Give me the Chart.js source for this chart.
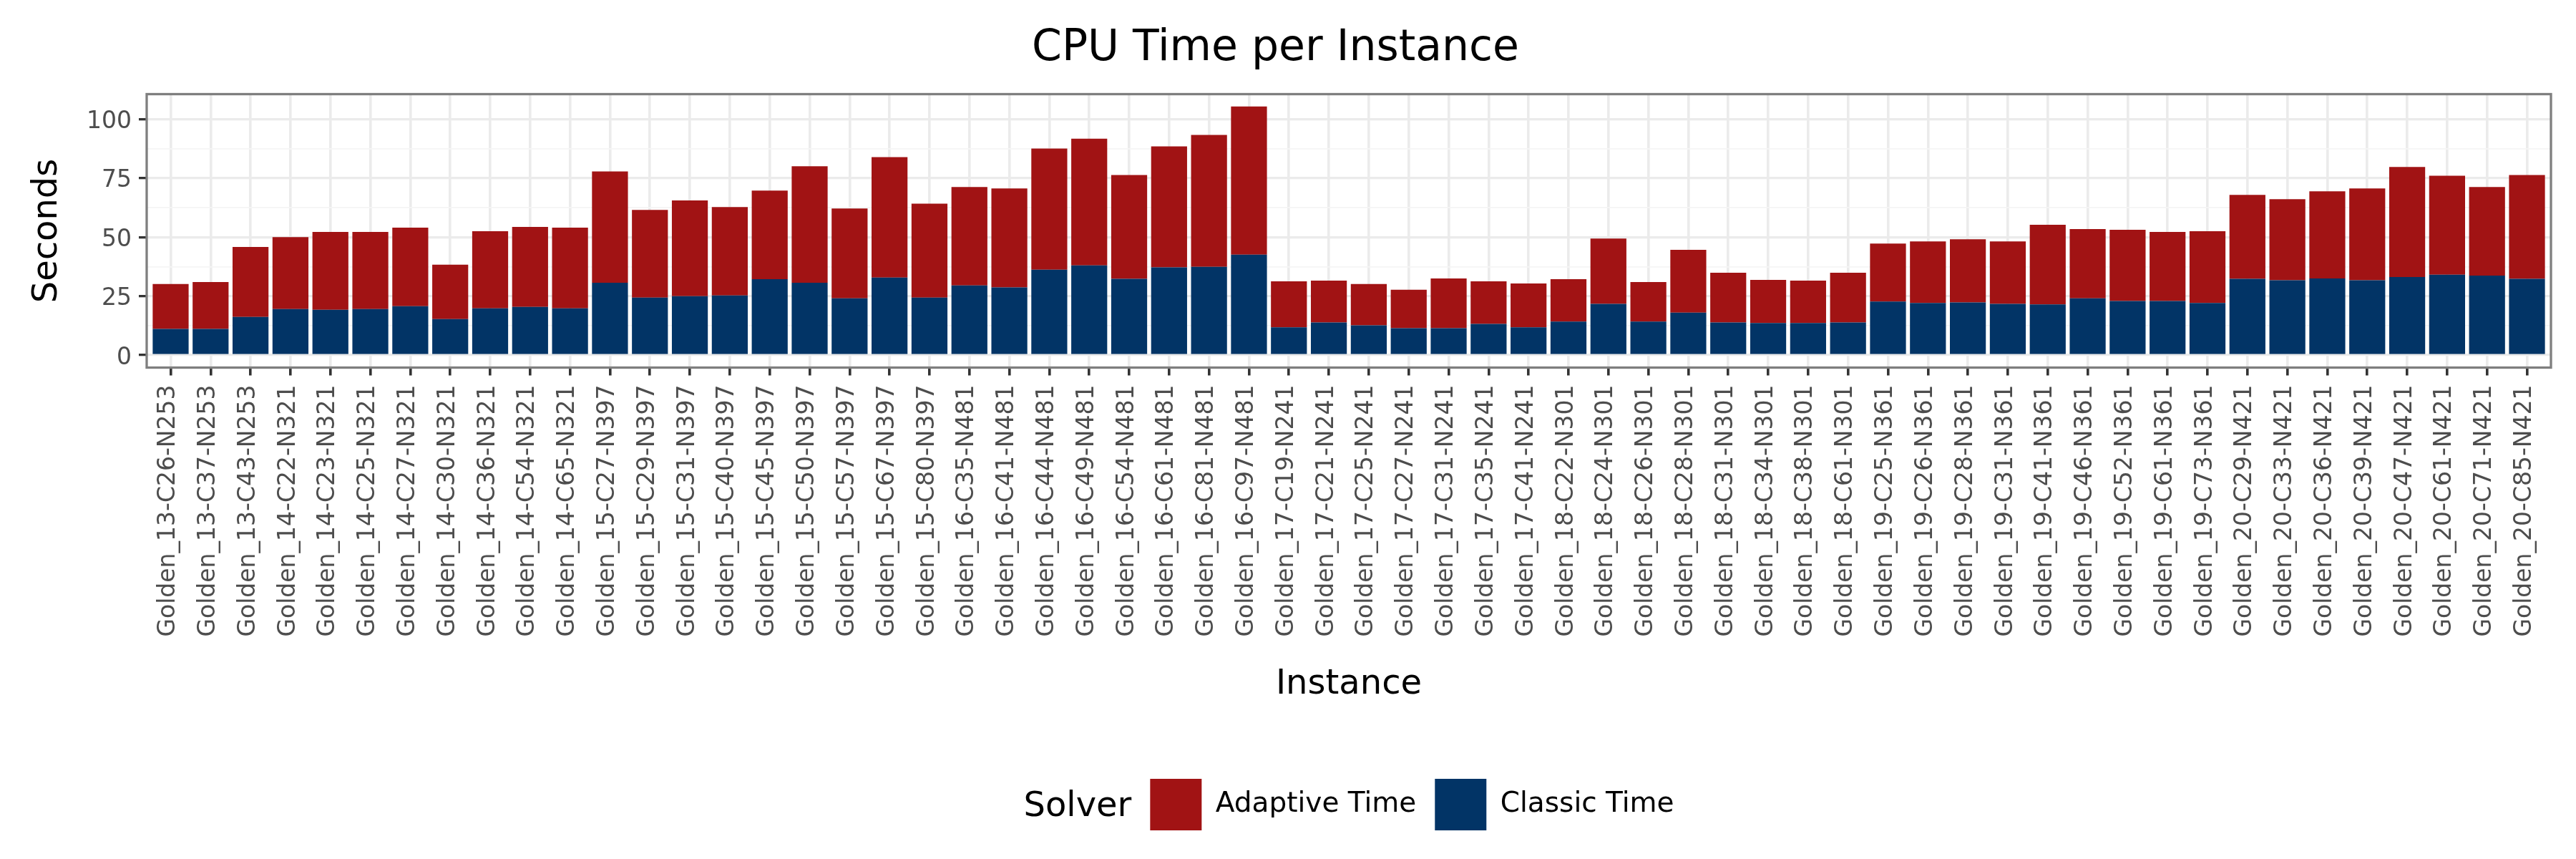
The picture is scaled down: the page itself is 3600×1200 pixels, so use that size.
<!DOCTYPE html>
<html lang="en">
<head>
<meta charset="UTF-8">
<title>CPU Time per Instance</title>
<script src="https://cdn.jsdelivr.net/npm/chart.js"></script>
<style>
    body { margin: 0; background: #ffffff; }
    canvas { display: block; }
</style>
</head>
<body>
<canvas id="myChart" width="3600" height="1200"></canvas>

<script>
    // Instances (x axis)
    var instances = [
        'Golden_13-C26-N253', 'Golden_13-C37-N253', 'Golden_13-C43-N253',
        'Golden_14-C22-N321', 'Golden_14-C23-N321', 'Golden_14-C25-N321', 'Golden_14-C27-N321',
        'Golden_14-C30-N321', 'Golden_14-C36-N321', 'Golden_14-C54-N321', 'Golden_14-C65-N321',
        'Golden_15-C27-N397', 'Golden_15-C29-N397', 'Golden_15-C31-N397', 'Golden_15-C40-N397',
        'Golden_15-C45-N397', 'Golden_15-C50-N397', 'Golden_15-C57-N397', 'Golden_15-C67-N397',
        'Golden_15-C80-N397',
        'Golden_16-C35-N481', 'Golden_16-C41-N481', 'Golden_16-C44-N481', 'Golden_16-C49-N481',
        'Golden_16-C54-N481', 'Golden_16-C61-N481', 'Golden_16-C81-N481', 'Golden_16-C97-N481',
        'Golden_17-C19-N241', 'Golden_17-C21-N241', 'Golden_17-C25-N241', 'Golden_17-C27-N241',
        'Golden_17-C31-N241', 'Golden_17-C35-N241', 'Golden_17-C41-N241',
        'Golden_18-C22-N301', 'Golden_18-C24-N301', 'Golden_18-C26-N301', 'Golden_18-C28-N301',
        'Golden_18-C31-N301', 'Golden_18-C34-N301', 'Golden_18-C38-N301', 'Golden_18-C61-N301',
        'Golden_19-C25-N361', 'Golden_19-C26-N361', 'Golden_19-C28-N361', 'Golden_19-C31-N361',
        'Golden_19-C41-N361', 'Golden_19-C46-N361', 'Golden_19-C52-N361', 'Golden_19-C61-N361',
        'Golden_19-C73-N361',
        'Golden_20-C29-N421', 'Golden_20-C33-N421', 'Golden_20-C36-N421', 'Golden_20-C39-N421',
        'Golden_20-C47-N421', 'Golden_20-C61-N421', 'Golden_20-C71-N421', 'Golden_20-C85-N421'
    ];

    // Seconds, bottom part of each bar
    var classicTime = [
        11.1, 11.1, 16.2,
        19.5, 19.2, 19.5, 20.7, 15.3, 19.8, 20.4, 19.8,
        30.7, 24.4, 25.0, 25.3, 32.2, 30.7, 24.1, 32.9, 24.4,
        29.5, 28.7, 36.2, 38.0, 32.3, 37.2, 37.4, 42.6,
        11.8, 13.8, 12.6, 11.4, 11.4, 13.2, 11.8,
        14.2, 21.7, 14.2, 18.0, 13.8, 13.6, 13.6, 13.8,
        22.7, 22.1, 22.3, 21.7, 21.5, 24.1, 22.9, 22.9, 22.1,
        32.3, 31.7, 32.5, 31.7, 33.1, 34.1, 33.7, 32.3
    ];

    // Seconds, stacked on top
    var adaptiveTime = [
        19.0, 19.9, 29.6,
        30.5, 33.0, 32.7, 33.3, 23.0, 32.7, 33.9, 34.2,
        47.1, 37.1, 40.5, 37.4, 37.5, 49.3, 38.0, 51.0, 39.8,
        41.7, 41.9, 51.3, 53.7, 44.0, 51.2, 55.9, 62.7,
        19.5, 17.8, 17.5, 16.3, 21.1, 18.1, 18.6,
        18.0, 27.7, 16.8, 26.6, 21.1, 18.3, 18.0, 21.1,
        24.6, 26.1, 26.8, 26.5, 33.7, 29.3, 30.2, 29.3, 30.4,
        35.6, 34.4, 36.9, 38.9, 46.6, 41.9, 37.5, 44.0
    ];

    var yTicks = [0, 25, 50, 75, 100];
    var yMinorTicks = [12.5, 37.5, 62.5, 87.5];

    var colAdaptive = '#A11314';
    var colClassic = '#023466';

    Chart.defaults.font.family = '"DejaVu Sans", sans-serif';

    // ggplot style expansion (5% on y, 0.6 on discrete x)
    var maxTotal = Math.max.apply(null, classicTime.map(function(v, i) { return v + adaptiveTime[i]; }));
    var yMin = -0.05 * maxTotal;
    var yMax = maxTotal * 1.05;

    function isMajor(v) { return yTicks.indexOf(v) >= 0; }

    var panelBorder = {
        id: 'panelBorder',
        afterDraw: function(chart) {
            var a = chart.chartArea;
            var ctx = chart.ctx;
            ctx.save();
            ctx.strokeStyle = '#7F7F7F';
            ctx.lineWidth = 3.3;
            ctx.strokeRect(a.left, a.top, a.right - a.left, a.bottom - a.top);
            ctx.restore();
        }
    };

    // legend title "Solver" sits left of the keys, whole group centred under the panel
    var solverTitle = {
        id: 'solverTitle',
        afterLayout: function(chart) {
            var lg = chart.legend;
            var ctx = chart.ctx;
            ctx.save();
            ctx.font = '48px "DejaVu Sans"';
            var solverW = ctx.measureText('Solver').width;
            ctx.restore();
            var pad = lg.options.labels.padding;
            var gap = 26;
            var itemsW = lg.lineWidths[0] - pad;
            var groupW = solverW + gap + itemsW;
            var center = (chart.chartArea.left + chart.chartArea.right) / 2;
            var itemsStart = center - groupW / 2 + solverW + gap;
            var cur = (lg.left + pad + lg.right - lg.lineWidths[0]) / 2;
            var shift = itemsStart - cur;
            lg.left += shift;
            lg.right += shift;
            this.solverX = itemsStart - gap - solverW;
            this.solverY = lg.top + pad + 36 + 4;
        },
        afterDraw: function(chart) {
            var ctx = chart.ctx;
            ctx.save();
            ctx.font = '48px "DejaVu Sans"';
            ctx.fillStyle = '#000000';
            ctx.textAlign = 'left';
            ctx.textBaseline = 'middle';
            ctx.fillText('Solver', this.solverX, this.solverY);
            ctx.restore();
        }
    };

    var ctx = document.getElementById('myChart').getContext('2d');
    var myChart = new Chart(ctx, {
        type: 'bar',
        data: {
            datasets: [
                {
                    label: 'Classic Time',
                    data: classicTime.map(function(v, i) { return {x: i, y: v}; }),
                    backgroundColor: colClassic,
                    borderWidth: 0,
                    barPercentage: 0.9,
                    categoryPercentage: 1.0
                },
                {
                    label: 'Adaptive Time',
                    data: adaptiveTime.map(function(v, i) { return {x: i, y: v}; }),
                    backgroundColor: colAdaptive,
                    borderWidth: 0,
                    barPercentage: 0.9,
                    categoryPercentage: 1.0
                }
            ]
        },
        options: {
            responsive: false,
            animation: false,
            devicePixelRatio: 1,
            layout: { padding: { left: 0, right: 35, top: 0, bottom: 30 } },
            plugins: {
                title: {
                    display: true,
                    text: 'CPU Time per Instance',
                    color: '#000000',
                    font: { size: 60, weight: 'normal' },
                    padding: { top: 32, bottom: 27.5 }
                },
                legend: {
                    position: 'bottom',
                    reverse: true,
                    labels: {
                        boxWidth: 72,
                        boxHeight: 72,
                        padding: 26,
                        color: '#000000',
                        font: { size: 39 }
                    }
                },
                tooltip: { enabled: false }
            },
            scales: {
                x: {
                    type: 'linear',
                    stacked: true,
                    offset: false,
                    min: -0.6,
                    max: instances.length - 0.4,
                    afterBuildTicks: function(axis) {
                        axis.ticks = instances.map(function(n, i) { return {value: i}; });
                    },
                    afterFit: function(axis) { axis.height = 548.5; },
                    ticks: {
                        autoSkip: false,
                        minRotation: 90,
                        maxRotation: 90,
                        padding: 13,
                        labelOffset: -3,
                        color: '#4D4D4D',
                        font: { size: 33 },
                        callback: function(v) { return instances[v]; }
                    },
                    grid: {
                        offset: false,
                        color: '#EBEBEB',
                        lineWidth: 3.6,
                        tickLength: 11,
                        tickColor: '#333333',
                        tickWidth: 3.6
                    },
                    border: { display: false },
                    title: {
                        display: true,
                        text: 'Instance',
                        color: '#000000',
                        font: { size: 48 },
                        padding: { top: 0, bottom: 77 }
                    }
                },
                y: {
                    stacked: true,
                    min: yMin,
                    max: yMax,
                    afterBuildTicks: function(axis) {
                        axis.ticks = yTicks.concat(yMinorTicks).sort(function(a, b) { return a - b; })
                            .map(function(v) { return {value: v}; });
                    },
                    afterFit: function(axis) { axis.width = 205; },
                    ticks: {
                        padding: 10,
                        labelOffset: 4,
                        color: '#4D4D4D',
                        font: { size: 33 },
                        callback: function(v) { return isMajor(v) ? String(v) : ''; }
                    },
                    grid: {
                        color: function(c) { return c.tick && isMajor(c.tick.value) ? '#EBEBEB' : '#F5F5F5'; },
                        lineWidth: function(c) { return c.tick && isMajor(c.tick.value) ? 3.3 : 1.8; },
                        tickLength: 11,
                        tickColor: function(c) { return c.tick && isMajor(c.tick.value) ? '#333333' : 'rgba(0,0,0,0)'; },
                        tickWidth: 3.3
                    },
                    border: { display: false },
                    title: {
                        display: true,
                        text: 'Seconds',
                        color: '#000000',
                        font: { size: 48 },
                        padding: { top: 38, bottom: 0 }
                    }
                }
            }
        },
        plugins: [panelBorder, solverTitle]
    });
</script>

</body>
</html>
